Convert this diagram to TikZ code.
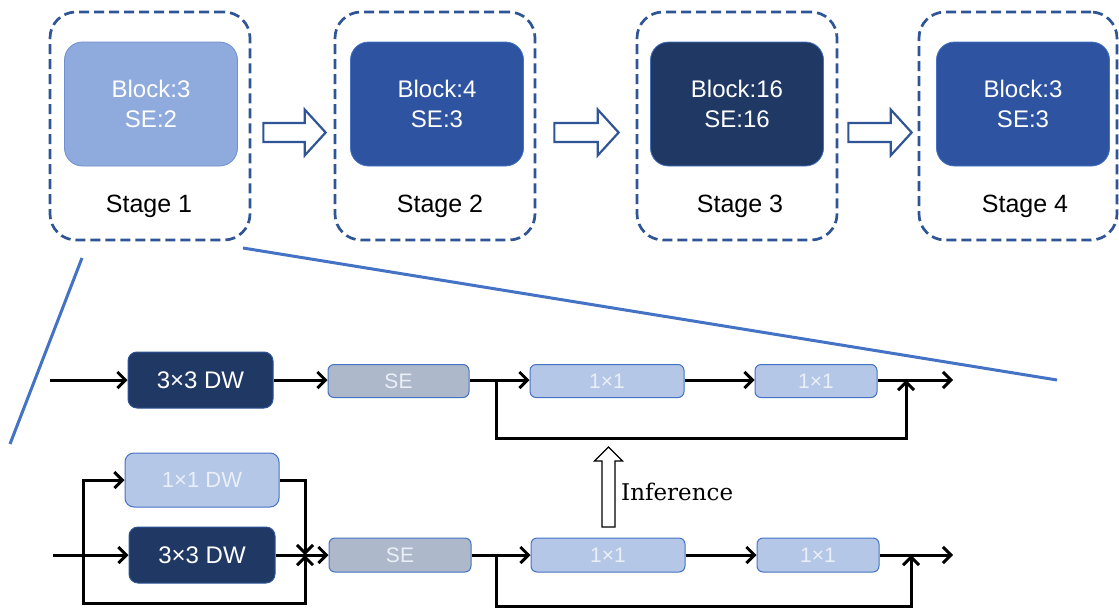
\documentclass[tikz,border=0pt]{standalone}
\usepackage{fontspec}
\setmainfont{Liberation Sans}
\newfontfamily\infserif{DejaVu Serif}
\usetikzlibrary{arrows.meta,calc}
\definecolor{dashblue}{HTML}{2F5597}
\definecolor{lightfill}{HTML}{8FAADC}
\definecolor{lightdraw}{HTML}{6F8FCF}
\definecolor{midfill}{HTML}{2E54A1}
\definecolor{darkfill}{HTML}{1F3864}
\definecolor{sefill}{HTML}{ADB9CA}
\definecolor{onefill}{HTML}{B4C7E7}
\definecolor{boxdraw}{HTML}{4472C4}
\definecolor{lighttext}{HTML}{EAEFF8}
\definecolor{zoomblue}{HTML}{4472C4}
\newcommand\harrow[2]{\draw[hollow] let \p1=(#1), \p2=(#2) in
  (\x1,\y1+9.5pt) -- (\x2-21pt,\y1+9.5pt) -- (\x2-21pt,\y1+23pt) -- (\x2,\y1)
  -- (\x2-21pt,\y1-23pt) -- (\x2-21pt,\y1-9.5pt) -- (\x1,\y1-9.5pt) -- cycle;}
\begin{document}
\begin{tikzpicture}[x=1pt,y=-1pt,
  stagebox/.style={draw=dashblue, line width=2.7pt, dash pattern=on 10pt off 5pt,
    rounded corners=26pt, minimum width=200pt, minimum height=228pt},
  inner/.style={rounded corners=18pt, minimum width=173pt, minimum height=124pt,
    text=white, align=center, font=\fontsize{24}{30}\selectfont, line width=0.8pt},
  stagelabel/.style={font=\fontsize{25}{30}\selectfont, text=black},
  hollow/.style={draw=dashblue, fill=white, line width=2.2pt, line join=miter},
  zoomline/.style={draw=zoomblue, line width=3pt},
  dwbox/.style={draw=dashblue, fill=darkfill, rounded corners=9pt, line width=1pt,
    minimum height=56pt, text=white, font=\fontsize{24}{28}\selectfont},
  sebox/.style={draw=boxdraw, fill=sefill, rounded corners=6pt, line width=1pt,
    minimum height=33pt, text=lighttext, font=\fontsize{21}{24}\selectfont},
  onebox/.style={draw=boxdraw, fill=onefill, rounded corners=6pt, line width=1pt,
    minimum height=33pt, text=lighttext, font=\fontsize{21}{24}\selectfont},
  conn/.style={line width=3pt, -{Straight Barb[length=8pt,width=16pt]}},
]
\useasboundingbox[fill=white] (0,0) rectangle (1119,611);

% ---- stages ----
\node[stagebox] (s1) at (150,126) {};
\node[stagebox] (s2) at (435,126) {};
\node[stagebox] (s3) at (737,126) {};
\node[stagebox, minimum width=198pt] (s4) at (1018,126) {};

\node[inner, fill=lightfill, draw=lightdraw] (b1) at (151,104) {Block:3\\SE:2};
\node[inner, fill=midfill, draw=boxdraw] (b2) at (437,104) {Block:4\\SE:3};
\node[inner, fill=darkfill, draw=boxdraw] (b3) at (737,104) {Block:16\\SE:16};
\node[inner, fill=midfill, draw=boxdraw] (b4) at (1023,104) {Block:3\\SE:3};

\node[stagelabel] (l1) at (149,206) {Stage 1};
\node[stagelabel] (l2) at (440,206) {Stage 2};
\node[stagelabel] (l3) at (740,206) {Stage 3};
\node[stagelabel] (l4) at (1025,206) {Stage 4};

% hollow arrows between stages
\coordinate (h1s) at ($(s1.east)+(12,6.5)$);
\coordinate (h1e) at ($(s2.west)+(-8,6.5)$);
\coordinate (h2s) at ($(s2.east)+(18,6.5)$);
\coordinate (h2e) at ($(s3.west)+(-17,6.5)$);
\coordinate (h3s) at ($(s3.east)+(10,6.5)$);
\coordinate (h3e) at ($(s4.west)+(-6,6.5)$);
\harrow{h1s}{h1e}
\harrow{h2s}{h2e}
\harrow{h3s}{h3e}

% zoom lines
\coordinate (z1a) at (243,248);
\coordinate (z1b) at (1057,380);
\coordinate (z2a) at (82,258);
\coordinate (z2b) at (10,444);
\draw[zoomline] (z1a) -- (z1b);
\draw[zoomline] (z2a) -- (z2b);

% ---- lower: inference block ----
\node[dwbox, minimum width=145pt] (dwA) at (200.5,380) {3×3 DW};
\node[sebox, minimum width=141pt] (seA) at (398.5,381) {SE};
\node[onebox, minimum width=154pt] (cA1) at (607,381) {1×1};
\node[onebox, minimum width=122pt] (cA2) at (816,381) {1×1};
\coordinate (inA) at (50,380);
\coordinate (outA) at (953,380);
\coordinate (brA) at (496,380);
\coordinate (rtA) at (906,380);

\draw[conn] (inA) -- (dwA.west);
\draw[conn] (dwA.east) -- (seA.west |- dwA.east);
\draw[conn] (seA.east |- brA) -- (cA1.west |- brA);
\draw[conn] (cA1.east |- brA) -- (cA2.west |- brA);
\draw[conn] (cA2.east |- brA) -- (outA);
\draw[conn] (brA) -- ++(0,58) -| (rtA);

% ---- lower: training block ----
\node[onebox, minimum width=154pt, minimum height=54pt, rounded corners=9pt,
  font=\fontsize{22}{26}\selectfont] (dwB1) at (202,480) {1×1 DW};
\node[dwbox, minimum width=146pt] (dwB3) at (202,555) {3×3 DW};
\node[sebox, minimum width=142pt, minimum height=34pt] (seB) at (400,555) {SE};
\node[onebox, minimum width=154pt, minimum height=34pt] (cB1) at (608,555) {1×1};
\node[onebox, minimum width=122pt, minimum height=34pt] (cB2) at (818,555) {1×1};
\coordinate (inB) at (53,555);
\coordinate (brB) at (83,555);
\coordinate (J) at (305,555);
\coordinate (outB) at (953,555);
\coordinate (brB2) at (496,555);
\coordinate (rtB) at (911,555);

\draw[conn] (inB) -- (dwB3.west);
\draw[conn] (brB) |- (dwB1.west);
\draw[conn] (brB) -- (83,603) -| (J);
\draw[conn] (dwB1.east) -| (J);
\draw[conn] (dwB3.east) -- (seB.west);
\draw[conn] (seB.east) -- (cB1.west);
\draw[conn] (cB1.east) -- (cB2.west);
\draw[conn] (cB2.east) -- (outB);
\draw[conn] (brB2) -- ++(0,51) -| (rtB);

% inference arrow
\coordinate (infS) at (608.5,527);
\coordinate (infT) at (608.5,447);
\draw[draw=black, fill=white, line width=1.1pt, line join=miter]
  let \p1=(infS), \p2=(infT) in
  (\x1-6.5pt,\y1) -- (\x1-6.5pt,\y2-14pt) -- (\x1-14pt,\y2-14pt) -- (\x2,\y2)
  -- (\x1+14pt,\y2-14pt) -- (\x1+6.5pt,\y2-14pt) -- (\x1+6.5pt,\y1) -- cycle;
\node[anchor=west, inner sep=0pt, font=\infserif\fontsize{23}{26}\selectfont] (inf) at (621,492) {Inference};
\end{tikzpicture}
\end{document}
